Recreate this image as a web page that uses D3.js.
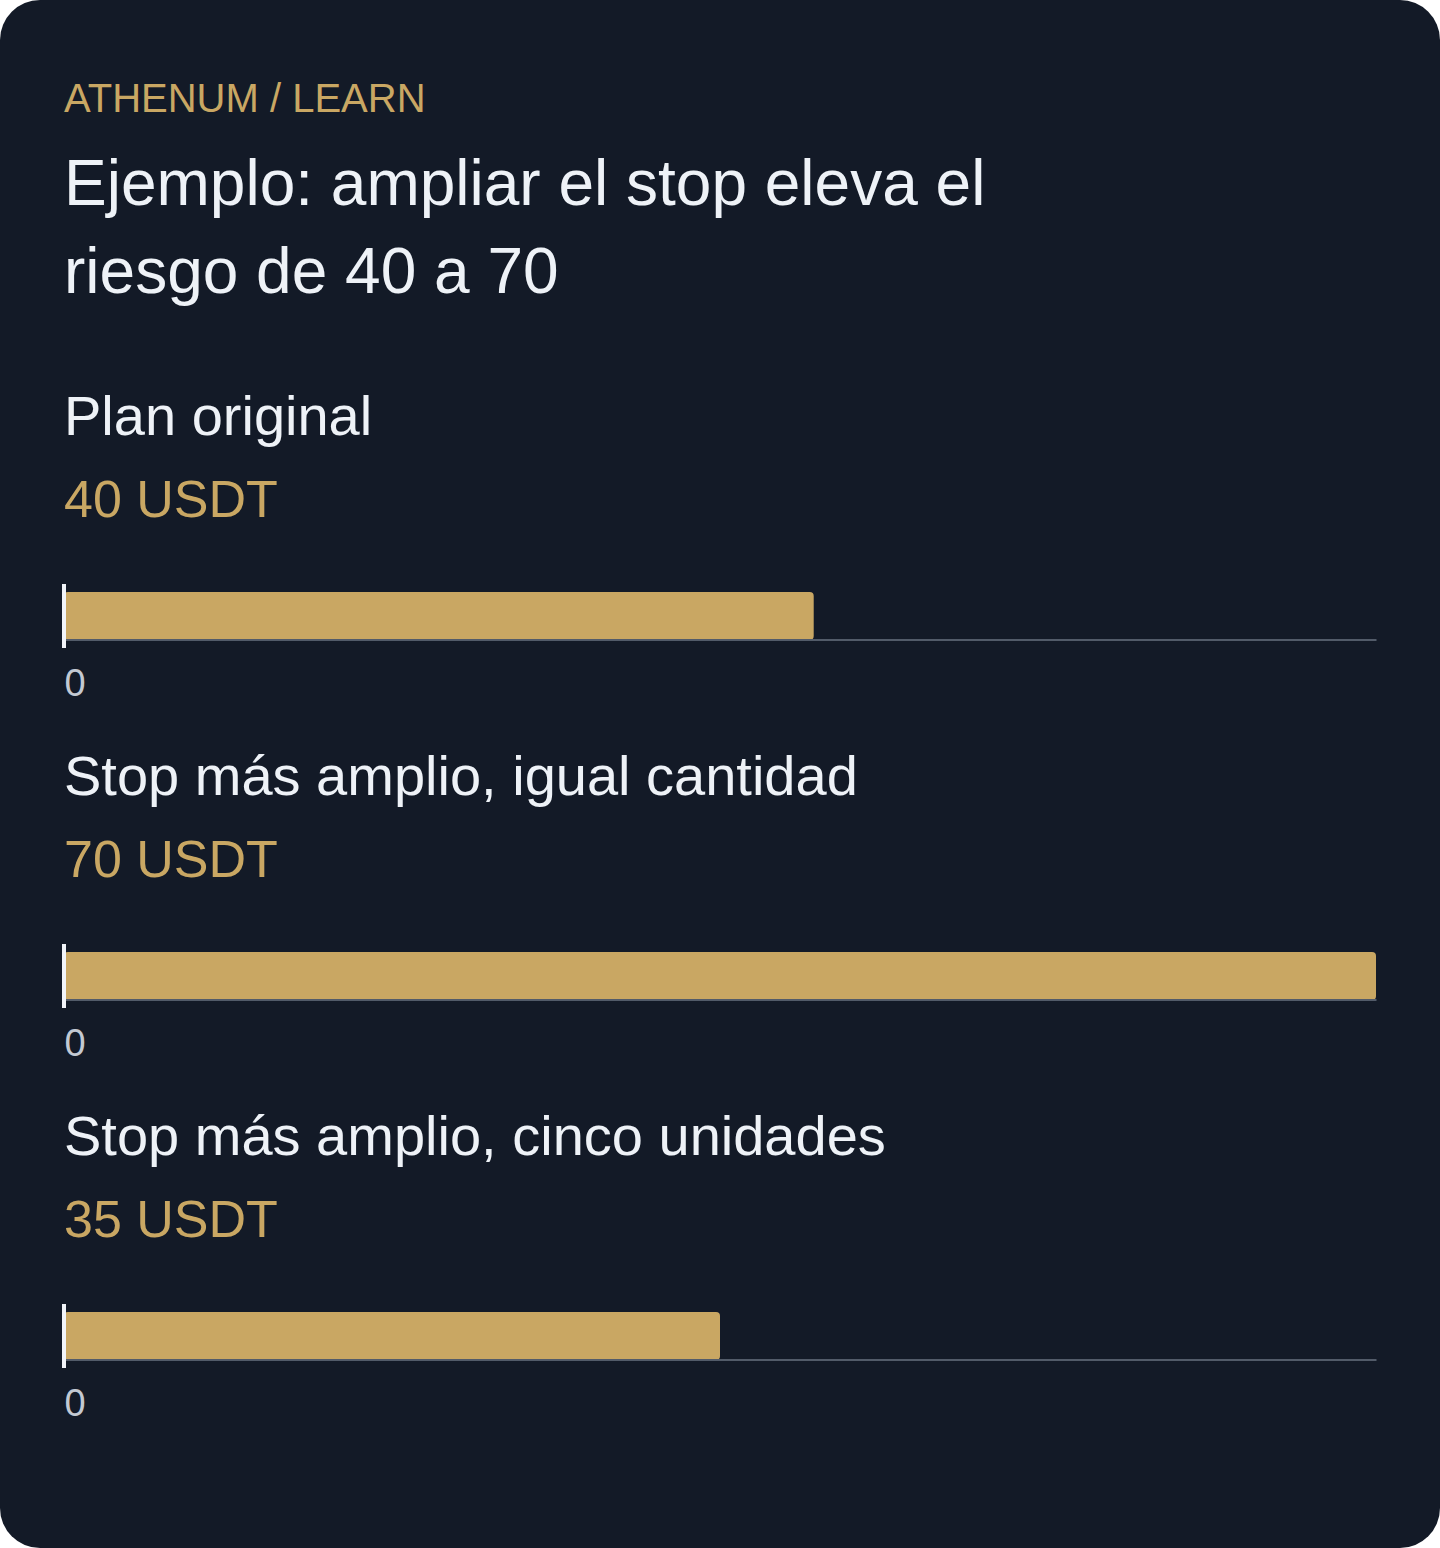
<!DOCTYPE html>
<html>
<head>
<meta charset="utf-8">
<script src="https://cdn.jsdelivr.net/npm/d3@7"></script>
<style>
  html, body { margin: 0; padding: 0; background: #ffffff; }
  svg { display: block; }
  text { font-family: "Liberation Sans", Arial, Helvetica, sans-serif; }
</style>
</head>
<body>
<div id="chart"></div>
<script>
const eyebrow = "ATHENUM / LEARN";
const titleLines = ["Ejemplo: ampliar el stop eleva el", "riesgo de 40 a 70"];
const categories = ["Plan original", "Stop más amplio, igual cantidad", "Stop más amplio, cinco unidades"];
const values = [40, 70, 35];
const valueLabels = ["40 USDT", "70 USDT", "35 USDT"];
const tickValues = [0];

const W = 1440, H = 1548;
const colors = {
  card: "#131a27",
  gold: "#c9a763",
  text: "#eef2f7",
  tick: "#c3c9d2",
  axis: "#525b69",
  zero: "#f1f4f9"
};

const svg = d3.select("#chart").append("svg")
  .attr("width", W).attr("height", H);

svg.append("rect")
  .attr("x", 0).attr("y", 0).attr("width", W).attr("height", H)
  .attr("rx", 40).attr("ry", 40)
  .attr("fill", colors.card);

svg.append("text")
  .attr("x", 64).attr("y", 112)
  .attr("font-size", 40)
  .attr("fill", colors.gold)
  .text(eyebrow);

svg.append("g").selectAll("text")
  .data(titleLines)
  .join("text")
  .attr("x", 64)
  .attr("y", (d, i) => 205 + i * 88)
  .attr("font-size", 64)
  .attr("fill", colors.text)
  .text(d => d);

const x = d3.scaleLinear()
  .domain([0, d3.max(values)])
  .range([64, 1376]);

const rows = d3.scaleBand()
  .domain(categories)
  .range([380, 1460])
  .paddingInner(0)
  .paddingOuter(0);

const data = categories.map((c, i) => ({ cat: c, value: values[i], label: valueLabels[i] }));

const groups = svg.append("g").selectAll("g.row")
  .data(data)
  .join("g")
  .attr("class", "row")
  .attr("transform", d => `translate(0,${rows(d.cat)})`);

groups.append("text")
  .attr("x", 64).attr("y", 55)
  .attr("font-size", 56)
  .attr("fill", colors.text)
  .text(d => d.cat);

groups.append("text")
  .attr("x", 64).attr("y", 137)
  .attr("font-size", 52)
  .attr("fill", colors.gold)
  .text(d => d.label);

groups.append("rect")
  .attr("x", x(0))
  .attr("y", 212)
  .attr("width", d => x(d.value) - x(0))
  .attr("height", 48)
  .attr("rx", 4).attr("ry", 4)
  .attr("fill", colors.gold);

groups.each(function () {
  const g = d3.select(this);
  const axisG = g.append("g")
    .attr("transform", "translate(0,259.5)")
    .call(d3.axisBottom(x).tickValues(tickValues).tickSize(0).tickSizeOuter(0).tickFormat(d3.format("d")));
  axisG.select(".domain")
    .attr("stroke", colors.axis)
    .attr("stroke-width", 2);
  axisG.selectAll(".tick text")
    .attr("dy", null)
    .attr("y", 56)
    .attr("text-anchor", "start")
    .attr("font-size", 38)
    .attr("font-family", "Liberation Sans, Arial, sans-serif")
    .attr("fill", colors.tick);
  axisG.selectAll(".tick line").remove();
});

groups.append("line")
  .attr("x1", x(0)).attr("x2", x(0))
  .attr("y1", 204).attr("y2", 268)
  .attr("stroke", colors.zero)
  .attr("stroke-width", 4);
</script>
</body>
</html>
